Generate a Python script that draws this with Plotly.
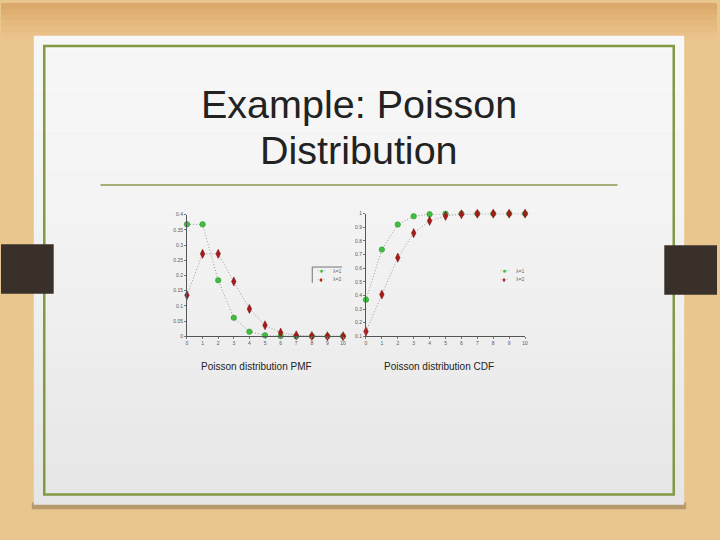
import plotly.graph_objects as go

# ---- data ----
k_values = [0, 1, 2, 3, 4, 5, 6, 7, 8, 9, 10]
pmf_lambda1 = [0.368, 0.368, 0.184, 0.061, 0.015, 0.003, 0.0005, 0.0001, 0.0, 0.0, 0.0]
pmf_lambda2 = [0.135, 0.271, 0.271, 0.180, 0.090, 0.036, 0.012, 0.003, 0.001, 0.0002, 0.0]
cdf_lambda1 = [0.368, 0.736, 0.920, 0.981, 0.996, 0.999, 1.0, 1.0, 1.0, 1.0, 1.0]
cdf_lambda2 = [0.135, 0.406, 0.677, 0.857, 0.947, 0.983, 0.995, 0.999, 1.0, 1.0, 1.0]
pmf_yticks = [0, 0.05, 0.1, 0.15, 0.2, 0.25, 0.3, 0.35, 0.4]
pmf_yticklabels = ["0", "0.05", "0.1", "0.15", "0.2", "0.25", "0.3", "0.35", "0.4"]
cdf_yticks = [0.1, 0.2, 0.3, 0.4, 0.5, 0.6, 0.7, 0.8, 0.9, 1.0]
cdf_yticklabels = ["0.1", "0.2", "0.3", "0.4", "0.5", "0.6", "0.7", "0.8", "0.9", "1"]
series_names = ["λ=1", "λ=2"]
title_lines = ["Example: Poisson", "Distribution"]
captions = ["Poisson distribution PMF", "Poisson distribution CDF"]

W, H = 720, 540
def px(x): return x / W
def py(y): return 1 - y / H

GREEN = "#3fbf3f"
GREEN_EDGE = "#2a8a2a"
RED = "#a81a1a"
RED_EDGE = "#7a1010"
LINE = "#9a9a9a"
FONT = "Liberation Sans"

fig = go.Figure()

def add_pair(y1, y2, xa, ya):
    fig.add_trace(go.Scatter(
        x=k_values, y=y1, name=series_names[0], mode="lines+markers",
        line=dict(color=LINE, width=1, dash="1px,2px"),
        marker=dict(symbol="circle", size=5.5, color=GREEN, line=dict(color=GREEN_EDGE, width=0.5)),
        xaxis=xa, yaxis=ya, cliponaxis=False, showlegend=False))
    fig.add_trace(go.Scatter(
        x=k_values, y=y2, name=series_names[1], mode="lines+markers",
        line=dict(color=LINE, width=1, dash="1px,2px"),
        marker=dict(symbol="diamond-tall", size=6.5, color=RED, line=dict(color=RED_EDGE, width=0.5)),
        xaxis=xa, yaxis=ya, cliponaxis=False, showlegend=False))

add_pair(pmf_lambda1, pmf_lambda2, "x", "y")
add_pair(cdf_lambda1, cdf_lambda2, "x2", "y2")

axis_common = dict(showgrid=False, zeroline=False, showline=True, linecolor="#555555",
                   linewidth=1, ticks="outside", ticklen=2, tickcolor="#777777",
                   tickfont=dict(size=5, color="#555555", family=FONT))

shapes = []
# wood background gradient (top darker)
wood = ["#dba96a", "#dfaf71", "#e2b477", "#e5b97e", "#e7bd84", "#e9c189"]
for i, c in enumerate(wood):
    shapes.append(dict(type="rect", xref="paper", yref="paper", x0=0, x1=1,
                       y0=py(6 * (i + 1)), y1=py(6 * i), fillcolor=c, line=dict(width=0), layer="below"))
# paper shadow
shapes.append(dict(type="rect", xref="paper", yref="paper", x0=px(31), x1=px(689),
                   y0=py(512), y1=py(505), fillcolor="rgba(90,70,50,0.35)", line=dict(width=0), layer="below"))
# paper sheet with smooth vertical gradient
n = 24
top, bot = 33, 507
for i in range(n):
    y0 = top + (bot - top) * i / n
    y1 = top + (bot - top) * (i + 1) / n
    v = int(round(247 - 17 * (i / (n - 1)) ** 1.5))
    c = "#%02x%02x%02x" % (v, v, v)
    shapes.append(dict(type="rect", xref="paper", yref="paper", x0=px(33), x1=px(687),
                       y0=py(y1 + 0.5), y1=py(y0), fillcolor=c, line=dict(width=0), layer="below"))
# green frame
shapes.append(dict(type="rect", xref="paper", yref="paper", x0=px(43.5), x1=px(676.5),
                   y0=py(497), y1=py(43.5), line=dict(color="#819a45", width=2.5), layer="below"))
# title underline
shapes.append(dict(type="line", xref="paper", yref="paper", x0=px(100), x1=px(620),
                   y0=py(184), y1=py(184), line=dict(color="#8a9a52", width=1.5)))
# dark tabs
shapes.append(dict(type="rect", xref="paper", yref="paper", x0=0, x1=px(53),
                   y0=py(294), y1=py(244), fillcolor="#3a302a", line=dict(width=0)))
shapes.append(dict(type="rect", xref="paper", yref="paper", x0=px(667), x1=1,
                   y0=py(295), y1=py(245), fillcolor="#3a302a", line=dict(width=0)))
# left legend box edges (left and top)
shapes.append(dict(type="line", xref="paper", yref="paper", x0=px(313), x1=px(313),
                   y0=py(283), y1=py(267), line=dict(color="#555555", width=0.8)))
shapes.append(dict(type="line", xref="paper", yref="paper", x0=px(313), x1=px(343),
                   y0=py(267), y1=py(267), line=dict(color="#555555", width=0.8)))

def ann(text, x, y, size, color="#222222", xanchor="center"):
    return dict(text=text, x=px(x), y=py(y), xref="paper", yref="paper", showarrow=False,
                xanchor=xanchor, yanchor="middle", font=dict(size=size, color=color, family=FONT))

annotations = [
    ann(title_lines[0], 360, 102, 39.5),
    ann(title_lines[1], 360, 149, 39.5),
    ann(captions[0], 256.5, 368, 10),
    ann(captions[1], 440, 368, 10),
]
# legends built as text: symbol glyph + label
legend_rows = [
    (GREEN, "●", series_names[0]),
    (RED, "♦", series_names[1]),
]
for (lx, ly) in [(316, 271), (500, 271)]:
    for j, (col, glyph, label) in enumerate(legend_rows):
        yy = ly + 8.5 * j
        annotations.append(ann("<span style='color:#999'>·</span>"
                               f"<span style='color:{col}'>{glyph}</span>"
                               "<span style='color:#999'>·</span>", lx + 6, yy, 7, col))
        annotations.append(ann(label, lx + 16, yy, 5, "#666666", xanchor="left"))

fig.update_layout(
    width=W, height=H, margin=dict(l=0, r=0, t=0, b=0),
    paper_bgcolor="#eac68f", plot_bgcolor="rgba(0,0,0,0)",
    xaxis=dict(domain=[px(187), px(344)], range=[0, 10], tickvals=k_values, anchor="y", **axis_common),
    yaxis=dict(domain=[py(337), py(214)], range=[0, 0.4], tickvals=pmf_yticks,
               ticktext=pmf_yticklabels, anchor="x", **axis_common),
    xaxis2=dict(domain=[px(367), px(527)], range=[0, 10], tickvals=k_values, anchor="y2", **axis_common),
    yaxis2=dict(domain=[py(337), py(213)], range=[0.1, 1], tickvals=cdf_yticks,
                ticktext=cdf_yticklabels, anchor="x2", **axis_common),
    shapes=shapes, annotations=annotations, showlegend=False,
)

fig.write_html("out.html", config={"displayModeBar": False},
               post_script="document.body.style.margin='0';document.body.style.overflow='hidden';")
